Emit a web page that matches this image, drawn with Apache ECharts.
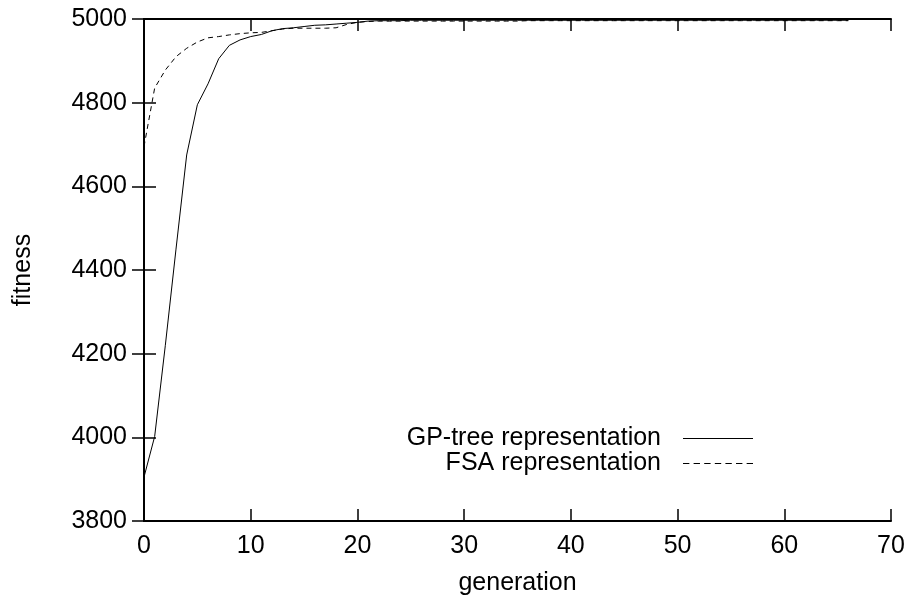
<!DOCTYPE html>
<html>
<head>
<meta charset="utf-8">
<script src="https://cdn.jsdelivr.net/npm/echarts@6/dist/echarts.min.js"></script>
<style>html,body{margin:0;padding:0;background:#fff}#c{width:913px;height:602px}</style>
</head>
<body>
<div id="c"></div>
<script>
const generations = Array.from({length: 67}, (_, i) => i);
const gpTree = [3905, 4002, 4220, 4450, 4675, 4795, 4845, 4905, 4937, 4950,
  4958, 4963, 4972, 4977, 4979, 4982, 4985, 4986, 4988, 4990,
  4992, 4995, 4996, 4996, 4996, 4997, 4997, 4997, 4997, 4997,
  4997, 4997, 4997, 4997, 4997, 4997, 4997, 4997, 4997, 4997,
  4997, 4997, 4997, 4997, 4997, 4997, 4997, 4997, 4997, 4997,
  4997, 4997, 4997, 4997, 4997, 4997, 4997, 4997, 4997, 4997,
  4997, 4997, 4997, 4997, 4997, 4997, 4997];
const fsa = [4695, 4835, 4878, 4910, 4930, 4945, 4955, 4958, 4962, 4965,
  4967, 4968, 4972, 4976, 4978, 4978, 4978, 4978, 4979, 4987,
  4992, 4994, 4995, 4995, 4995, 4995, 4995, 4995, 4995, 4995,
  4995, 4995, 4995, 4995, 4995, 4995, 4996, 4996, 4996, 4996,
  4996, 4996, 4996, 4996, 4996, 4996, 4996, 4996, 4996, 4996,
  4996, 4996, 4996, 4996, 4996, 4996, 4996, 4996, 4996, 4996,
  4996, 4996, 4996, 4996, 4996, 4996, 4996];
const seriesNames = ['GP-tree representation', 'FSA representation'];

const font = 'Liberation Sans, Arial, Helvetica, sans-serif';
const axisLine = {show: true, lineStyle: {color: '#000', width: 2}};
const ticks = {show: true, inside: true, length: 12, lineStyle: {color: '#000', width: 1.5}};
const solidIcon = 'path://M0,0H70V1H0Z';
let dashPath = '';
for (let k = 0; k < 7; k++) { const s = k * 10 + 1; dashPath += 'M' + s + ',0H' + (s + 6) + 'V1H' + s + 'Z'; }
const dashIcon = 'path://' + dashPath;
const chart = echarts.init(document.getElementById('c'));
chart.setOption({
  animation: false,
  backgroundColor: '#fff',
  grid: {left: 144, right: 22, top: 19, bottom: 81},
  legend: {
    orient: 'vertical', align: 'right', right: 155, top: 421,
    itemWidth: 70, itemHeight: 1.4, itemGap: 0,
    textStyle: {fontFamily: font, fontSize: 25, lineHeight: 24, color: '#000', padding: [0, 17, 0, 0]},
    data: [{name: seriesNames[0], icon: solidIcon}, {name: seriesNames[1], icon: dashIcon}]
  },
  xAxis: [{
    type: 'value', min: 0, max: 70, interval: 10,
    name: 'generation', nameLocation: 'middle', nameGap: 50,
    nameTextStyle: {fontFamily: font, fontSize: 25, color: '#000'},
    axisLine: axisLine, axisTick: ticks,
    axisLabel: {fontFamily: font, fontSize: 25, color: '#000', margin: 13, formatter: v => String(v)},
    splitLine: {show: false}
  }, {
    type: 'value', min: 0, max: 70, interval: 10, position: 'top',
    axisLine: axisLine, axisTick: ticks, axisLabel: {show: false}, splitLine: {show: false}
  }],
  yAxis: [{
    type: 'value', min: 3800, max: 5000, interval: 200,
    name: 'fitness', nameLocation: 'middle', nameGap: 108, nameRotate: 90,
    nameTextStyle: {fontFamily: font, fontSize: 25, color: '#000'},
    axisLine: axisLine, axisTick: ticks,
    axisLabel: {fontFamily: font, fontSize: 25, color: '#000', margin: 17, formatter: v => String(v)},
    splitLine: {show: false}
  }, {
    type: 'value', min: 3800, max: 5000, interval: 200, position: 'right',
    axisLine: axisLine, axisTick: ticks, axisLabel: {show: false}, splitLine: {show: false}
  }],
  series: [{
    name: seriesNames[0], type: 'line', symbol: 'none',
    data: generations.map((g, i) => [g, gpTree[i]]),
    lineStyle: {color: '#000', width: 1}, itemStyle: {color: '#000'}
  }, {
    name: seriesNames[1], type: 'line', symbol: 'none',
    data: generations.map((g, i) => [g, fsa[i]]),
    lineStyle: {color: '#000', width: 1, type: [5, 4]}, itemStyle: {color: '#000'}
  }]
});
</script>
</body>
</html>
